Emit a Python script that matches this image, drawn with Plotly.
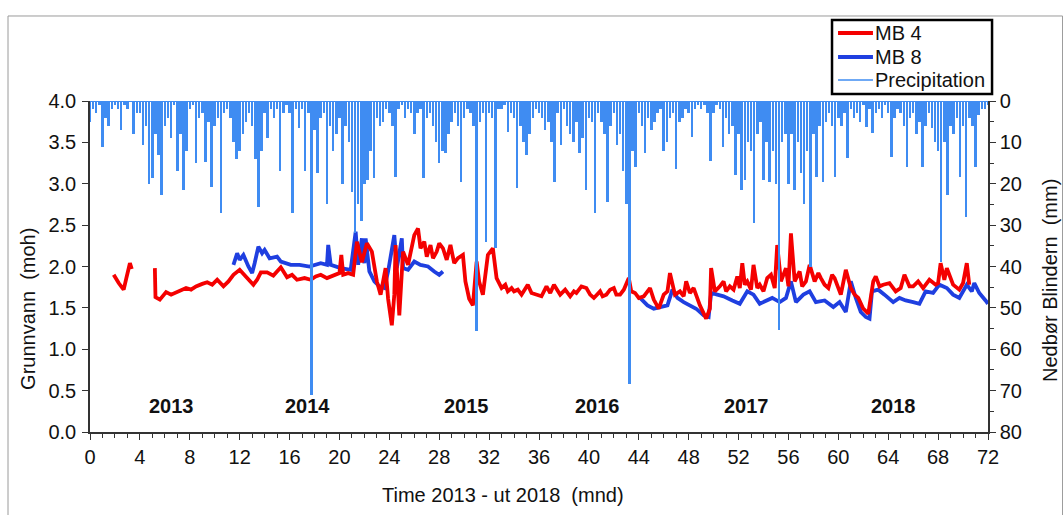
import numpy as np
import plotly.graph_objects as go

# ---------------- data ----------------
# Precipitation (mm) sampled every 0.25 month, month 0 .. 72
precip_step = 0.25
precip_mm = (
    [5, 2, 3, 1, 11, 4, 6, 2, 1, 2, 7, 1, 2, 0, 8, 3] +
    [3, 10.6, 6, 20, 18.7, 8, 13, 22.7, 6, 4, 9, 1, 17, 8, 21.5, 12] +
    [2, 1, 15, 4, 3, 14.7, 5, 20.8, 6, 4, 27, 3, 2, 4, 10, 14] +
    [12, 8, 5, 3, 6, 14, 25.6, 12, 3, 9, 2, 4, 2, 17, 3, 1] +
    [3, 27, 2, 6.5, 2, 17, 3, 71, 7, 17.4, 4, 3, 25, 6, 12, 8] +
    [4, 20, 6, 10, 22, 32, 25, 29, 20, 19, 12, 18.6, 4, 6, 5, 2] +
    [3, 6, 18.4, 2, 1, 4, 2, 3, 8, 3, 2, 18.5, 4, 3, 6, 10] +
    [15, 12, 12.5, 8, 5, 3, 6, 19.6, 4, 2, 3, 6, 55.6, 5, 3, 34] +
    [3, 4, 35.5, 2, 2, 1, 7.5, 3, 4, 21, 6, 10, 13, 8, 4, 2] +
    [3, 4, 7, 5, 10, 19.6, 3, 10.6, 2, 6, 8, 10, 5, 12.5, 9, 21.5] +
    [4, 5, 27, 3, 5, 8, 24.4, 6, 3, 10.6, 8, 17, 25, 68.4, 12, 16] +
    [3, 6, 12.6, 4, 7, 5, 3, 2, 12, 10, 4, 3, 16.5, 5, 4, 2] +
    [3, 8.8, 2, 1, 2, 1, 3, 14.4, 3, 1, 2, 11, 4, 8, 6, 18] +
    [8, 21.5, 19, 10, 12, 29.5, 8, 5, 19, 10, 19.6, 12, 20, 55.4, 10, 8] +
    [20, 8, 21.5, 10, 17.5, 25, 12, 40, 8, 18.4, 6, 19.6, 5, 3, 6, 18.4] +
    [4, 6, 3, 13.8, 2, 4, 3, 5, 1, 6.2, 2, 7.7, 3, 2, 4, 1] +
    [3, 13.5, 4, 2, 3, 6, 16, 4, 3, 8, 5, 16, 6, 3, 6.5, 10] +
    [12, 39, 10, 22.7, 6, 8, 4, 18.4, 6, 28, 4, 6, 16, 3.4, 2, 2] +
    [1]
)
precip_month = list(np.arange(len(precip_mm)) * precip_step)

# Groundwater MB 4 (moh); None = data gap
mb4_month = [1.9, 2.1, 2.3, 2.5, 2.7, 2.9, 3.1, 3.2, 3.35, None,
             5.2, 5.25, 5.6, 6.1, 6.5, 6.9, 7.3, 7.7, 8.1, 8.5, 9.0, 9.4, 9.8, 10.2, 10.7, 11.1,
             11.5, 12.0, 12.6, 13.1, 13.4, 13.7, 14.2, 14.7, 15.3, 15.8, 16.2, 16.6, 17.2, 17.7,
             18.1, 18.5, 19.0, 19.6, 20.0, 20.15, 20.3, 20.7, 21.1, 21.4, 21.8, 22.2,
             22.6, 23.0, 23.3, 23.7, 23.9, 24.2, 24.4, 24.5, 24.8, 25.1, 25.5, 26.0, 26.3, 26.5,
             26.8, 27.0, 27.3, 27.5, 27.8, 28.0, 28.3, 28.6, 28.9, 29.2, 29.5, 29.9, 30.1, 30.4,
             30.7, 31.0, 31.2, 31.5, 31.9, 32.3, 32.6, 33.0, 33.3, 33.5, 33.8, 34.0, 34.3, 34.6,
             35.1, 35.4, 35.8, 36.2, 36.6, 36.9, 37.2, 37.5, 37.7, 38.1, 38.5, 38.8, 39.0, 39.4,
             39.8, 40.1, 40.4, 40.9, 41.1, 41.4, 41.7, 42.0, 42.2, 42.5, 42.8, 43.2, 43.4, 43.7,
             44.0, 44.4, 44.9, 45.2, 45.6, 46.0, 46.3, 46.5, 46.9, 47.3, 47.6, 47.8, 48.1, 48.4,
             48.9, 49.4, 49.7, 49.8, 50.1, 50.5, 50.8, 51.0, 51.3, 51.6, 51.9, 52.1, 52.3, 52.5,
             52.7, 53.0, 53.2, 53.5, 53.7, 54.0, 54.3, 54.6, 54.9, 55.1, 55.4, 55.8, 56.0, 56.2,
             56.5, 56.9, 57.1, 57.4, 57.7, 58.1, 58.4, 58.6, 58.9, 59.2, 59.5, 59.7, 60.0, 60.2,
             60.6, 61.0, 61.3, 61.6, 62.0, 62.4, 62.8, 63.0, 63.3, 63.6, 64.1, 64.6, 65.0, 65.3,
             65.7, 66.0, 66.4, 66.8, 67.3, 67.8, 68.0, 68.2, 68.5, 68.7, 69.2, 69.7, 70.0, 70.3,
             70.5]
mb4_level = [1.90, 1.84, 1.80, 1.76, 1.72, 1.85, 1.96, 2.04, 1.97, None,
             1.98, 1.63, 1.60, 1.69, 1.66, 1.69, 1.71, 1.74, 1.72, 1.76, 1.79, 1.81, 1.78, 1.84,
             1.76, 1.82, 1.90, 1.96, 1.86, 1.78, 1.84, 1.93, 1.93, 1.89, 1.99, 1.87, 1.90, 1.84,
             1.86, 1.84, 1.88, 1.90, 1.86, 1.90, 1.92, 2.14, 1.90, 1.92, 1.90, 2.30, 2.05, 2.28,
             2.18, 1.82, 1.66, 1.98, 1.61, 1.29, 1.66, 2.26, 1.41, 2.18, 2.02, 2.38, 2.46, 2.22,
             2.30, 2.12, 2.26, 2.10, 2.18, 2.28, 2.22, 2.08, 2.26, 2.04, 2.10, 2.14, 1.82, 1.61,
             1.53, 2.06, 1.82, 1.66, 2.14, 2.22, 1.86, 1.74, 1.78, 1.70, 1.74, 1.70, 1.72, 1.66,
             1.78, 1.68, 1.66, 1.64, 1.76, 1.68, 1.78, 1.70, 1.66, 1.72, 1.64, 1.70, 1.68, 1.76,
             1.74, 1.66, 1.62, 1.70, 1.64, 1.66, 1.72, 1.74, 1.66, 1.66, 1.72, 1.86, 1.70, 1.68,
             1.62, 1.64, 1.74, 1.60, 1.49, 1.66, 1.70, 1.92, 1.66, 1.70, 1.64, 1.82, 1.68, 1.74,
             1.53, 1.37, 1.49, 1.98, 1.70, 1.76, 1.82, 1.70, 1.76, 1.72, 1.88, 1.74, 2.04, 1.78,
             1.82, 1.72, 2.02, 1.74, 1.78, 1.70, 1.86, 1.90, 1.74, 2.26, 1.82, 1.98, 1.76, 2.40,
             1.82, 1.94, 1.76, 1.82, 2.02, 1.82, 1.92, 1.86, 1.78, 1.74, 1.90, 1.86, 1.72, 1.66,
             1.96, 1.74, 1.66, 1.62, 1.49, 1.43, 1.82, 1.88, 1.76, 1.78, 1.80, 1.70, 1.74, 1.90,
             1.76, 1.76, 1.82, 1.74, 1.84, 1.78, 1.80, 2.04, 1.84, 1.98, 1.78, 1.72, 1.80, 2.04,
             1.78]

# Groundwater MB 8 (moh); None = data gap
mb8_month = [11.5, 11.8, 12.0, 12.3, 12.7, 13.0, 13.2, 13.5, 13.8, 14.0, 14.4, 15.0, 15.3, 16.1,
             16.8, 17.6, 18.5, 19.0, 19.1, 19.3, 20.1, 20.9, 21.3, 21.5, 21.8, 22.0, 22.1, 22.4,
             22.8, 23.2, 23.6, 23.9, 24.4, 24.6, 25.0, 25.1, 25.5, 26.0, 26.5, 27.1, 27.6, 28.0,
             28.3, None,
             44.1, 44.7, 45.2, 45.7, 46.3, 46.7, 47.1, 47.6, 48.1, 48.6, 49.2, 49.6, 49.8, 50.3,
             50.8, 51.5, 52.1, 52.7, 53.2, 53.7, 54.3, 54.7, 55.3, 55.8, 56.2, 56.6, 57.2, 57.7,
             58.2, 58.9, 59.6, 60.1, 60.6, 61.0, 61.4, 61.8, 62.2, 62.5, 62.7, 63.2, 63.7, 64.4,
             64.9, 65.4, 66.0, 66.5, 67.0, 67.6, 68.1, 68.7, 69.2, 69.7, 70.3, 70.7, 70.9, 71.3,
             71.8, 72.0]
mb8_level = [2.02, 2.16, 2.08, 2.14, 2.00, 1.92, 2.04, 2.24, 2.16, 2.20, 2.10, 2.12, 2.06, 2.02,
             2.02, 2.00, 2.04, 2.02, 2.26, 2.02, 1.98, 1.96, 2.42, 2.02, 2.34, 2.04, 2.34, 1.94,
             1.82, 1.76, 1.74, 1.94, 2.38, 1.98, 2.34, 1.98, 1.96, 2.06, 2.02, 2.00, 1.94, 1.90,
             1.94, None,
             1.62, 1.53, 1.49, 1.51, 1.53, 1.72, 1.62, 1.57, 1.53, 1.49, 1.41, 1.39, 1.68, 1.66,
             1.64, 1.59, 1.55, 1.70, 1.66, 1.55, 1.59, 1.62, 1.57, 1.62, 1.82, 1.57, 1.66, 1.70,
             1.57, 1.59, 1.51, 1.57, 1.45, 1.82, 1.62, 1.45, 1.39, 1.37, 1.70, 1.72, 1.66, 1.57,
             1.62, 1.59, 1.57, 1.55, 1.70, 1.68, 1.78, 1.74, 1.66, 1.62, 1.78, 1.70, 1.80, 1.68,
             1.59, 1.55]

series_names = ["MB 4", "MB 8", "Precipitation"]

year_labels = ["2013", "2014", "2015", "2016", "2017", "2018"]
year_label_month = [6.5, 17.4, 30.2, 40.7, 52.6, 64.4]
year_label_level = 0.31

x_ticks = list(range(0, 73, 4))
left_ticks = [0.0, 0.5, 1.0, 1.5, 2.0, 2.5, 3.0, 3.5, 4.0]
right_ticks = [0, 10, 20, 30, 40, 50, 60, 70, 80]

x_title = "Time 2013 - ut 2018  (mnd)"
y_title = "Grunnvann  (moh)"
y2_title = "Nedbør Blindern  (mm)"

# ---------------- styles ----------------
RED = "#f40000"
BLUE = "#1f3fe0"
PBLUE = "#3f8cf2"
FONT = "Liberation Sans, Arial, sans-serif"
AX = "#333333"
FS = 20

fig = go.Figure()

fig.add_trace(go.Bar(x=precip_month, y=precip_mm, yaxis="y2", width=0.2,
                     marker=dict(color=PBLUE, line=dict(width=0)),
                     showlegend=False, name=series_names[2]))
fig.add_trace(go.Scatter(x=mb8_month, y=mb8_level, mode="lines", name=series_names[1],
                         line=dict(color=BLUE, width=3.8), connectgaps=False, showlegend=False))
fig.add_trace(go.Scatter(x=mb4_month, y=mb4_level, mode="lines", name=series_names[0],
                         line=dict(color=RED, width=3.8), connectgaps=False, showlegend=False))

for lab, mx in zip(year_labels, year_label_month):
    fig.add_annotation(x=mx, y=year_label_level, xref="x", yref="y", text="<b>%s</b>" % lab,
                       showarrow=False, font=dict(family=FONT, size=FS, color="#111"))

# axis titles (placed as in the original, not centred)
fig.add_annotation(x=0.46, y=-0.19, xref="paper", yref="paper", text=x_title, showarrow=False,
                   xanchor="center", yanchor="middle", font=dict(family=FONT, size=FS, color="#111"))
fig.add_annotation(x=-0.069, y=0.372, xref="paper", yref="paper", text=y_title, showarrow=False,
                   textangle=-90, xanchor="center", yanchor="middle",
                   font=dict(family=FONT, size=FS, color="#111"))
fig.add_annotation(x=1.069, y=0.459, xref="paper", yref="paper", text=y2_title, showarrow=False,
                   textangle=-90, xanchor="center", yanchor="middle",
                   font=dict(family=FONT, size=FS, color="#111"))

# precipitation baseline along the top of the plot
fig.add_shape(type="line", xref="x", yref="y2", x0=x_ticks[0], x1=x_ticks[-1], y0=0, y1=0,
              line=dict(color=PBLUE, width=2))
# outer frame
fig.add_shape(type="rect", xref="paper", yref="paper", x0=-0.0913, x1=1.083, y0=-0.26, y1=1.2568,
              line=dict(color="#9a9a9a", width=1), layer="below")

# legend box (layout items, positions in paper coordinates)
fig.add_shape(type="rect", xref="paper", yref="paper", x0=0.8263, x1=1.0045, y0=1.0211, y1=1.2447,
              line=dict(color="black", width=2.5), fillcolor="white")
leg_rows = [1.2054, 1.1329, 1.0634]
leg_styles = [(RED, 3.8), (BLUE, 3.8), (PBLUE, 1.5)]
for name, yy, (col, w) in zip(series_names, leg_rows, leg_styles):
    fig.add_shape(type="line", xref="paper", yref="paper", x0=0.8330, x1=0.8719, y0=yy, y1=yy,
                  line=dict(color=col, width=w))
    fig.add_annotation(x=0.8730, y=yy, xref="paper", yref="paper", text=name, showarrow=False,
                       xanchor="left", yanchor="middle", borderpad=0,
                       font=dict(family=FONT, size=FS, color="#111"))

fig.update_layout(
    width=1063, height=515,
    margin=dict(l=90, r=75, t=101, b=83, autoexpand=False),
    paper_bgcolor="white", plot_bgcolor="white",
    font=dict(family=FONT, size=FS, color="#111"),
    barmode="overlay", bargap=0,
    showlegend=False,
    xaxis=dict(range=[0, 72], tickvals=x_ticks, ticks="outside", ticklen=6, tickwidth=1,
               tickcolor=AX, showline=True, linecolor=AX, linewidth=1.5, showgrid=False,
               zeroline=False, tickfont=dict(size=FS), automargin=False,
               minor=dict(dtick=1, ticks="outside", ticklen=4, tickcolor=AX, tickwidth=1, showgrid=False)),
    yaxis=dict(range=[0, 4.0], tickvals=left_ticks, tickformat=".1f", ticks="outside", ticklen=6,
               tickcolor=AX, showline=True, linecolor=AX, linewidth=1.5, showgrid=False,
               zeroline=False, tickfont=dict(size=FS), ticklabelstandoff=2, automargin=False),
    yaxis2=dict(range=[80, 0], overlaying="y", side="right", tickvals=right_ticks,
                ticks="outside", ticklen=6, tickcolor=AX, showline=True, linecolor=AX,
                linewidth=1.5, showgrid=False, zeroline=False, tickfont=dict(size=FS),
                automargin=False,
                minor=dict(dtick=5, ticks="outside", ticklen=4, tickcolor=AX, showgrid=False)),
)

fig.write_html("out.html")
